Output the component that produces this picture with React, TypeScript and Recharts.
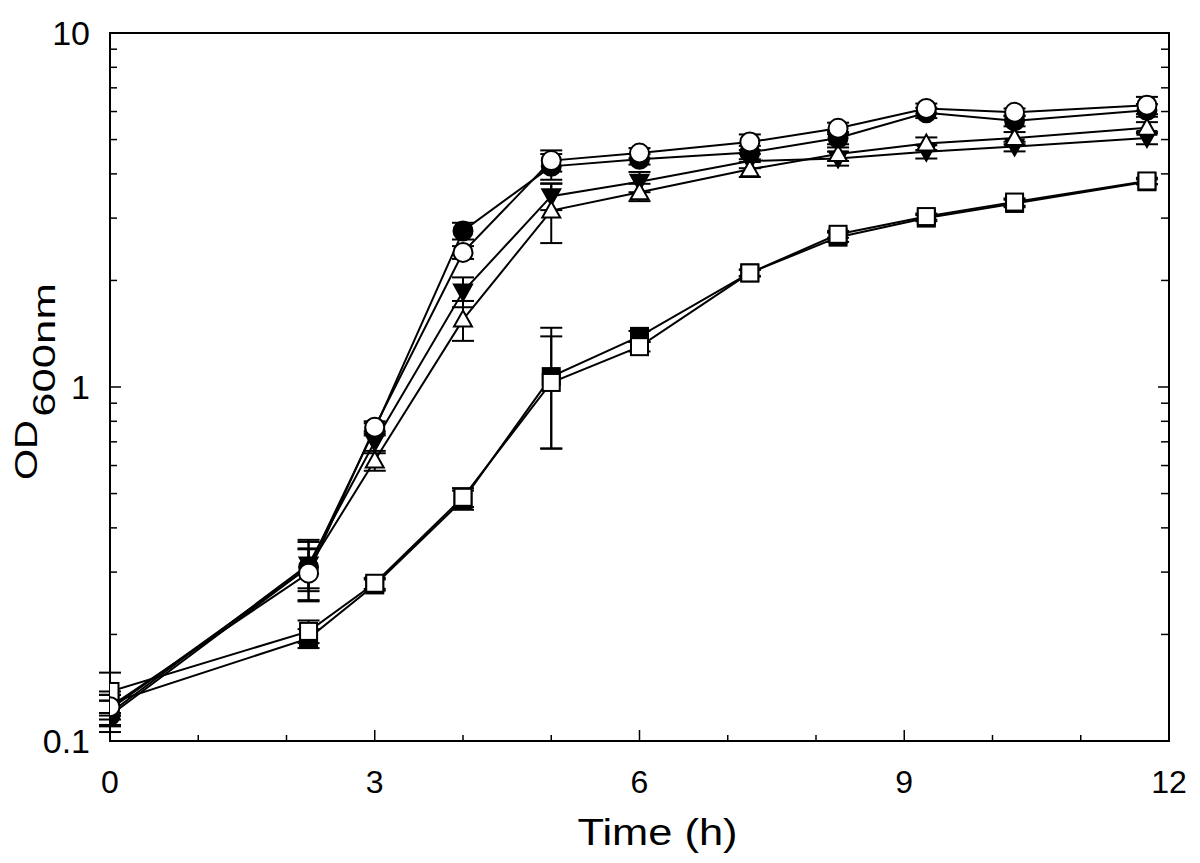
import React from "react";
import { LineChart, Line, XAxis, YAxis, ErrorBar, ReferenceArea } from "recharts";

const time = [0, 2.25, 3, 4, 5, 6, 7.25, 8.25, 9.25, 10.25, 11.75];
const filledCircle = [0.118, 0.31, 0.76, 2.76, 4.2, 4.4, 4.6, 5.05, 5.95, 5.65, 6.05];
const filledCircleErr = [0.012, 0.04, 0.03, 0.15, 0.35, 0.15, 0.2, 0.2, 0.2, 0.2, 0.25];
const openCircle = [0.125, 0.298, 0.77, 2.4, 4.36, 4.58, 4.92, 5.38, 6.12, 5.97, 6.25];
const openCircleErr = [0.01, 0.05, 0.03, 0.1, 0.3, 0.15, 0.25, 0.2, 0.2, 0.15, 0.35];
const downTriangle = [0.12, 0.315, 0.7, 1.86, 3.46, 3.8, 4.35, 4.42, 4.62, 4.78, 5.05];
const downTriangleErr = [0.01, 0.05, 0.05, 0.18, 0.3, 0.25, 0.2, 0.2, 0.2, 0.15, 0.2];
const upTriangle = [0.123, 0.31, 0.62, 1.55, 3.15, 3.55, 4.12, 4.55, 4.87, 5.05, 5.4];
const upTriangleErr = [0.012, 0.06, 0.04, 0.2, 0.6, 0.2, 0.2, 0.2, 0.2, 0.2, 0.2];
const filledSquare = [0.128, 0.195, 0.276, 0.48, 1.07, 1.39, 2.1, 2.65, 3.0, 3.3, 3.8];
const filledSquareErr = [0.01, 0.012, 0.01, 0.03, 0.4, 0.05, 0.05, 0.08, 0.06, 0.08, 0.06];
const openSquare = [0.138, 0.204, 0.279, 0.488, 1.03, 1.3, 2.1, 2.7, 3.03, 3.33, 3.82];
const openSquareErr = [0.018, 0.015, 0.01, 0.03, 0.36, 0.04, 0.04, 0.06, 0.06, 0.08, 0.08];

const xTicks = [0, 1, 2, 3, 4, 5, 6, 7, 8, 9, 10, 11, 12];
const xLabels = [0, 3, 6, 9, 12];
const yTicks = [0.1, 0.2, 0.3, 0.4, 0.5, 0.6, 0.7, 0.8, 0.9, 1, 2, 3, 4, 5, 6, 7, 8, 9, 10];
const yLabels: Record<string, string> = { "0.1": "0.1", "1": "1", "10": "10" };

const data = time.map((t, i) => ({
  t,
  fc: filledCircle[i],
  fcErr: filledCircleErr[i],
  oc: openCircle[i],
  ocErr: openCircleErr[i],
  dt: downTriangle[i],
  dtErr: downTriangleErr[i],
  ut: upTriangle[i],
  utErr: upTriangleErr[i],
  fs: filledSquare[i],
  fsErr: filledSquareErr[i],
  os: openSquare[i],
  osErr: openSquareErr[i],
}));

const FONT = "'Liberation Sans', Arial, sans-serif";

const XTick = (props: any) => {
  const { x, y, payload } = props;
  const v = payload.value;
  const major = xLabels.includes(v);
  return (
    <g>
      <line x1={x} x2={x} y1={y} y2={y - (major ? 11 : 6)} stroke="#000" strokeWidth={1.5} />
      {major && (
        <text x={x} y={y + 52} textAnchor="middle" fontSize={32} fontFamily={FONT} fill="#000">
          {v}
        </text>
      )}
    </g>
  );
};

const YTickLeft = (props: any) => {
  const { x, y, payload } = props;
  const key = String(payload.value);
  const label = yLabels[key];
  return (
    <g>
      <line x1={x} x2={x + (label ? 11 : 7)} y1={y} y2={y} stroke="#000" strokeWidth={1.5} />
      {label && (
        <text x={x - 20} y={y + 12} textAnchor="end" fontSize={34} fontFamily={FONT} fill="#000">
          {label}
        </text>
      )}
    </g>
  );
};

const YTickRight = (props: any) => {
  const { x, y, payload } = props;
  const key = String(payload.value);
  const label = yLabels[key];
  return <line x1={x} x2={x - (label ? 11 : 8)} y1={y} y2={y} stroke="#000" strokeWidth={1.5} />;
};

const mk = (kind: string) => (props: any) => {
  const { cx, cy, index } = props;
  const k = `${kind}-${index}`;
  if (cx == null || cy == null) return <g key={k} />;
  const sw = 2;
  switch (kind) {
    case "fc":
      return <circle key={k} cx={cx} cy={cy} r={9.5} fill="#000" stroke="#000" strokeWidth={sw} />;
    case "oc":
      return <circle key={k} cx={cx} cy={cy} r={9.5} fill="#fff" stroke="#000" strokeWidth={sw} />;
    case "dt":
      return (
        <polygon key={k} points={`${cx - 9},${cy - 7} ${cx + 9},${cy - 7} ${cx},${cy + 9}`} fill="#000" stroke="#000" strokeWidth={sw} strokeLinejoin="miter" />
      );
    case "ut":
      return (
        <polygon key={k} points={`${cx - 9},${cy + 7} ${cx + 9},${cy + 7} ${cx},${cy - 9}`} fill="#fff" stroke="#000" strokeWidth={sw} strokeLinejoin="miter" />
      );
    case "fs":
      return <rect key={k} x={cx - 8.5} y={cy - 8.5} width={17} height={17} fill="#000" stroke="#000" strokeWidth={sw} />;
    default:
      return <rect key={k} x={cx - 8.5} y={cy - 8.5} width={17} height={17} fill="#fff" stroke="#000" strokeWidth={sw} />;
  }
};

const series = [
  { key: "fs", err: "fsErr" },
  { key: "os", err: "osErr" },
  { key: "dt", err: "dtErr" },
  { key: "ut", err: "utErr" },
  { key: "fc", err: "fcErr" },
  { key: "oc", err: "ocErr" },
];

const XLabel = (props: any) => {
  const vb = props.viewBox || {};
  const cx = (vb.x || 0) + (vb.width || 0) / 2 + 18;
  const y = (vb.y || 0) + 104;
  return (
    <text x={cx} y={y} textAnchor="middle" fontSize={37} fontFamily={FONT} fill="#000" textLength={160} lengthAdjust="spacingAndGlyphs">
      Time (h)
    </text>
  );
};

const YLabel = () => {
  return (
    <g>
      <g transform="translate(29, 442) rotate(-90) scale(1.29, 1)">
        <text x={0} y={0} textAnchor="middle" fontSize={31} fontFamily={FONT} fill="#000">
          OD
        </text>
      </g>
      <g transform="translate(47, 342) rotate(-90) scale(1.41, 1)">
        <text x={0} y={0} textAnchor="middle" fontSize={31} fontFamily={FONT} fill="#000">
          600nm
        </text>
      </g>
    </g>
  );
};

export default function App() {
  return (
    <div style={{ width: 1184, height: 847, background: "#fff" }}>
      <LineChart width={1184} height={847} data={data} margin={{ top: 25, right: 22, bottom: 34, left: 42 }}>
        <XAxis
          dataKey="t"
          type="number"
          domain={[0, 12]}
          ticks={xTicks}
          interval={0}
          tickSize={0}
          tickMargin={0}
          tick={<XTick />}
          tickLine={false}
          axisLine={{ stroke: "#000", strokeWidth: 2 }}
          height={80}
          label={<XLabel />}
          allowDataOverflow
        />
        <YAxis
          yAxisId="left"
          type="number"
          scale="log"
          domain={[0.1, 10]}
          ticks={yTicks}
          interval={0}
          tickSize={0}
          tickMargin={0}
          tick={<YTickLeft />}
          tickLine={false}
          axisLine={{ stroke: "#000", strokeWidth: 2 }}
          width={60}
          allowDataOverflow
        />
        <YAxis
          yAxisId="right"
          orientation="right"
          type="number"
          scale="log"
          domain={[0.1, 10]}
          ticks={yTicks}
          interval={0}
          tickSize={0}
          tickMargin={0}
          tick={<YTickRight />}
          tickLine={false}
          axisLine={{ stroke: "#000", strokeWidth: 2 }}
          width={1}
          allowDataOverflow
        />
        <ReferenceArea yAxisId="left" x1={0} x2={12} y1={0.1} y2={10} fill="none" stroke="#000" strokeWidth={2} ifOverflow="visible" />
        {series.map((s) => (
          <Line
            key={s.key}
            yAxisId="left"
            dataKey={s.key}
            type="linear"
            stroke="#000"
            strokeWidth={2}
            dot={mk(s.key)}
            activeDot={false}
            isAnimationActive={false}
          >
            <ErrorBar dataKey={s.err} direction="y" width={11} stroke="#000" strokeWidth={2} />
          </Line>
        ))}
        <YLabel />
      </LineChart>
    </div>
  );
}
